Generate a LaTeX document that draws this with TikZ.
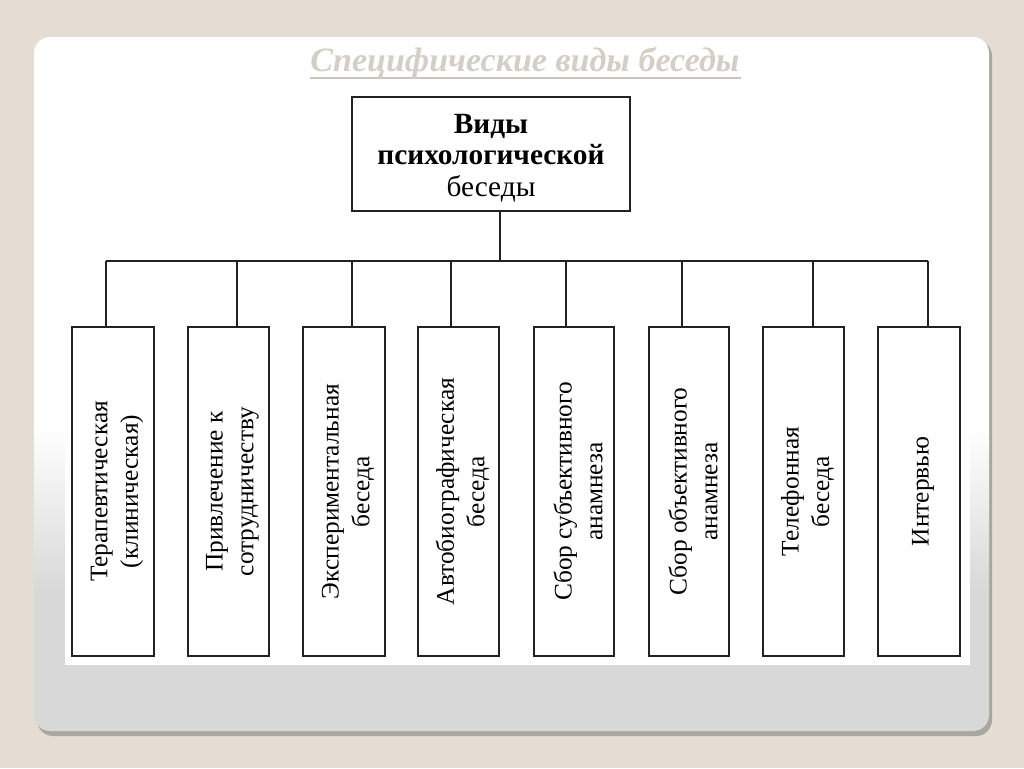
\documentclass[tikz,border=0pt]{standalone}
\usepackage{fontspec}
\setmainfont{Liberation Serif}
\usetikzlibrary{shadings}
\definecolor{bgbeige}{HTML}{E3DDD3}
\definecolor{slidegray}{HTML}{D8D8D8}
\definecolor{shadowgray}{HTML}{A9A79F}
\definecolor{titlecol}{HTML}{D4CFC6}
\definecolor{titleline}{HTML}{C9C5BD}
\definecolor{linegray}{HTML}{222222}
\pgfdeclareverticalshading{slideshade}{100bp}{color(0bp)=(slidegray); color(25bp)=(slidegray); color(35bp)=(slidegray); color(47bp)=(white); color(100bp)=(white)}
\tikzset{
  kindbox/.style={draw=linegray, line width=1pt, fill=white},
  conn/.style={draw=linegray, line width=0.9pt},
  vlabel/.style={rotate=90, align=center, font=\fontsize{19}{23}\selectfont, text=black},
}
\begin{document}
\begin{tikzpicture}[x=0.75pt,y=-0.75pt]
\useasboundingbox (0,0) rectangle (1024,768);
\fill[bgbeige] (0,0) rectangle (1024,768);
% slide shadow
\fill[shadowgray, rounded corners=12] (37,40) rectangle (992,736);
% slide
\shade[shading=slideshade, rounded corners=12] (34,37) rectangle (989,731);
\fill[white] (65,97) rectangle (970,665);
% title
\draw[titleline, line width=2.2pt] (310,78) -- (741,78);
\node[font=\fontsize{25.5}{30}\selectfont\bfseries\itshape, text=titlecol, anchor=base] (title) at (525,71) {Специфические виды беседы};
% top box
\node[kindbox, minimum width=278*0.75pt, minimum height=114*0.75pt, inner sep=0pt] (root) at (491,154) {};
\node[align=center, font=\fontsize{22}{23.5}\selectfont, inner sep=0pt] (roott) at (491,158) {\textbf{Виды}\\\textbf{психологической}\\беседы};
% bus
\coordinate (bus) at (500,261);
\coordinate (busL) at (106,261);
\coordinate (busR) at (928,261);
\draw[conn] (root.south -| bus) -- (bus);
\draw[conn] (busL) -- (busR);
% boxes
\foreach \n/\l/\r/\d/\t in {
  b1/72/154/106/{Терапевтическая\\(клиническая)},
  b2/188/269/237/{Привлечение к\\сотрудничеству},
  b3/303/385/352/{Экспериментальная\\беседа},
  b4/418/499/451/{Автобиографическая\\беседа},
  b5/534/614/566/{Сбор субъективного\\анамнеза},
  b6/649/729/682/{Сбор объективного\\анамнеза},
  b7/763/844/813/{Телефонная\\беседа},
  b8/878/960/928/{Интервью}}
{
  \node[kindbox, minimum width={(\r-\l)*0.75pt}, minimum height=329*0.75pt, inner sep=0pt] (\n) at ({(\l+\r)/2},491.5) {};
  \node[vlabel] (\n t) at ({(\l+\r)/2+4},491.5) {\t};
  \coordinate (\n d) at (\d,261);
  \draw[conn] (\n d) -- (\n.north -| \n d);
}
\end{tikzpicture}
\end{document}
